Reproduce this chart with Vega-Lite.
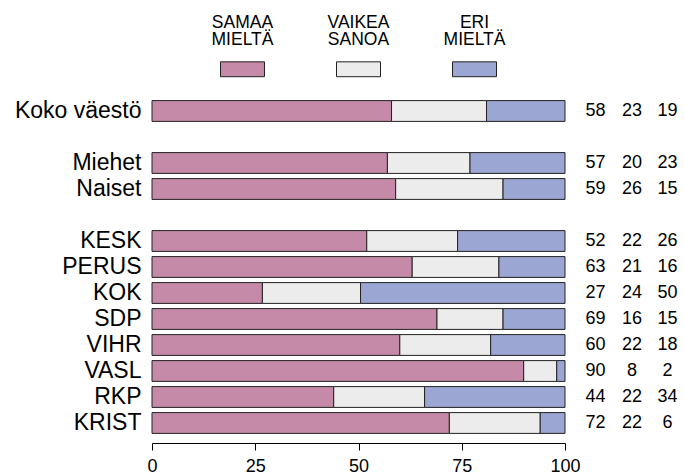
{
  "$schema": "https://vega.github.io/schema/vega-lite/v6.json",
  "autosize": {"type": "none"},
  "padding": {"left": 152, "top": 98, "right": 119, "bottom": 40},
  "width": 413,
  "height": 338,
  "config": {
    "view": {"stroke": null},
    "font": "Liberation Sans",
    "text": {"font": "Liberation Sans", "color": "#000000"}
  },
  "resolve": {"scale": {"x": "independent", "y": "independent"}},
  "layer": [
    {
      "data": {"values": [
        {"ryhma": "Koko väestö", "vastaus": "SAMAA MIELTÄ", "osuus": 58},
        {"ryhma": "Koko väestö", "vastaus": "VAIKEA SANOA", "osuus": 23},
        {"ryhma": "Koko väestö", "vastaus": "ERI MIELTÄ", "osuus": 19},
        {"ryhma": "Miehet", "vastaus": "SAMAA MIELTÄ", "osuus": 57},
        {"ryhma": "Miehet", "vastaus": "VAIKEA SANOA", "osuus": 20},
        {"ryhma": "Miehet", "vastaus": "ERI MIELTÄ", "osuus": 23},
        {"ryhma": "Naiset", "vastaus": "SAMAA MIELTÄ", "osuus": 59},
        {"ryhma": "Naiset", "vastaus": "VAIKEA SANOA", "osuus": 26},
        {"ryhma": "Naiset", "vastaus": "ERI MIELTÄ", "osuus": 15},
        {"ryhma": "KESK", "vastaus": "SAMAA MIELTÄ", "osuus": 52},
        {"ryhma": "KESK", "vastaus": "VAIKEA SANOA", "osuus": 22},
        {"ryhma": "KESK", "vastaus": "ERI MIELTÄ", "osuus": 26},
        {"ryhma": "PERUS", "vastaus": "SAMAA MIELTÄ", "osuus": 63},
        {"ryhma": "PERUS", "vastaus": "VAIKEA SANOA", "osuus": 21},
        {"ryhma": "PERUS", "vastaus": "ERI MIELTÄ", "osuus": 16},
        {"ryhma": "KOK", "vastaus": "SAMAA MIELTÄ", "osuus": 27},
        {"ryhma": "KOK", "vastaus": "VAIKEA SANOA", "osuus": 24},
        {"ryhma": "KOK", "vastaus": "ERI MIELTÄ", "osuus": 50},
        {"ryhma": "SDP", "vastaus": "SAMAA MIELTÄ", "osuus": 69},
        {"ryhma": "SDP", "vastaus": "VAIKEA SANOA", "osuus": 16},
        {"ryhma": "SDP", "vastaus": "ERI MIELTÄ", "osuus": 15},
        {"ryhma": "VIHR", "vastaus": "SAMAA MIELTÄ", "osuus": 60},
        {"ryhma": "VIHR", "vastaus": "VAIKEA SANOA", "osuus": 22},
        {"ryhma": "VIHR", "vastaus": "ERI MIELTÄ", "osuus": 18},
        {"ryhma": "VASL", "vastaus": "SAMAA MIELTÄ", "osuus": 90},
        {"ryhma": "VASL", "vastaus": "VAIKEA SANOA", "osuus": 8},
        {"ryhma": "VASL", "vastaus": "ERI MIELTÄ", "osuus": 2},
        {"ryhma": "RKP", "vastaus": "SAMAA MIELTÄ", "osuus": 44},
        {"ryhma": "RKP", "vastaus": "VAIKEA SANOA", "osuus": 22},
        {"ryhma": "RKP", "vastaus": "ERI MIELTÄ", "osuus": 34},
        {"ryhma": "KRIST", "vastaus": "SAMAA MIELTÄ", "osuus": 72},
        {"ryhma": "KRIST", "vastaus": "VAIKEA SANOA", "osuus": 22},
        {"ryhma": "KRIST", "vastaus": "ERI MIELTÄ", "osuus": 6}
      ]},
      "encoding": {
        "y": {
          "field": "ryhma", "type": "nominal",
          "scale": {"domain": ["Koko väestö", " ", "Miehet", "Naiset", "  ", "KESK", "PERUS", "KOK", "SDP", "VIHR", "VASL", "RKP", "KRIST"], "paddingInner": 0.2, "paddingOuter": 0.1},
          "axis": {"title": null, "domain": false, "ticks": false, "labelPadding": 11, "labelFontSize": 23, "labelColor": "#000000", "labelFont": "Liberation Sans", "labelLimit": 300}
        }
      },
      "layer": [
        {
          "transform": [{"calculate": "indexof(['SAMAA MIELTÄ', 'VAIKEA SANOA', 'ERI MIELTÄ'], datum.vastaus)", "as": "jarjestys"}],
          "mark": {"type": "bar", "stroke": "#222222", "strokeWidth": 1},
          "encoding": {
            "x": {
              "field": "osuus", "type": "quantitative", "stack": "normalize",
              "scale": {"domain": [0, 1], "nice": false},
              "axis": {"title": null, "values": [0, 0.25, 0.5, 0.75, 1], "labelExpr": "format(datum.value * 100, 'd')", "grid": false, "domainColor": "#000000", "tickColor": "#000000", "tickSize": 7, "offset": 7, "labelPadding": 7, "labelFontSize": 18, "labelColor": "#000000", "labelFont": "Liberation Sans", "labelFlush": false, "labelOverlap": false}
            },
            "color": {"field": "vastaus", "type": "nominal", "scale": {"domain": ["SAMAA MIELTÄ", "VAIKEA SANOA", "ERI MIELTÄ"], "range": ["#c48aa7", "#ececec", "#9ba6d2"]}, "legend": null},
            "order": {"field": "jarjestys", "type": "quantitative", "sort": "ascending"}
          }
        },
        {
          "transform": [{"filter": "datum.vastaus == 'SAMAA MIELTÄ'"}],
          "mark": {"type": "text", "fontSize": 18, "align": "center", "baseline": "middle", "color": "#000000"},
          "encoding": {"x": {"datum": 1.074, "type": "quantitative"}, "text": {"field": "osuus"}}
        },
        {
          "transform": [{"filter": "datum.vastaus == 'VAIKEA SANOA'"}],
          "mark": {"type": "text", "fontSize": 18, "align": "center", "baseline": "middle", "color": "#000000"},
          "encoding": {"x": {"datum": 1.162, "type": "quantitative"}, "text": {"field": "osuus"}}
        },
        {
          "transform": [{"filter": "datum.vastaus == 'ERI MIELTÄ'"}],
          "mark": {"type": "text", "fontSize": 18, "align": "center", "baseline": "middle", "color": "#000000"},
          "encoding": {"x": {"datum": 1.248, "type": "quantitative"}, "text": {"field": "osuus"}}
        }
      ]
    },
    {
      "data": {"values": [
        {"vastaus": "SAMAA MIELTÄ"},
        {"vastaus": "VAIKEA SANOA"},
        {"vastaus": "ERI MIELTÄ"}
      ]},
      "encoding": {
        "x": {"field": "vastaus", "type": "nominal", "sort": ["SAMAA MIELTÄ", "VAIKEA SANOA", "ERI MIELTÄ"], "scale": {"paddingOuter": 0.28, "paddingInner": 0}, "axis": null}
      },
      "layer": [
        {
          "mark": {"type": "bar", "width": 44, "stroke": "#222222", "strokeWidth": 1},
          "encoding": {
            "y": {"datum": 11.07, "type": "quantitative", "scale": {"domain": [0, 10], "nice": false, "zero": false}, "axis": null},
            "y2": {"datum": 10.63},
            "color": {"field": "vastaus", "type": "nominal", "legend": null}
          }
        },
        {
          "mark": {"type": "text", "lineBreak": " ", "fontSize": 17.5, "baseline": "alphabetic", "align": "center", "lineHeight": 17, "color": "#000000"},
          "encoding": {
            "y": {"datum": 12.06, "type": "quantitative"},
            "text": {"field": "vastaus"}
          }
        }
      ]
    }
  ]
}
